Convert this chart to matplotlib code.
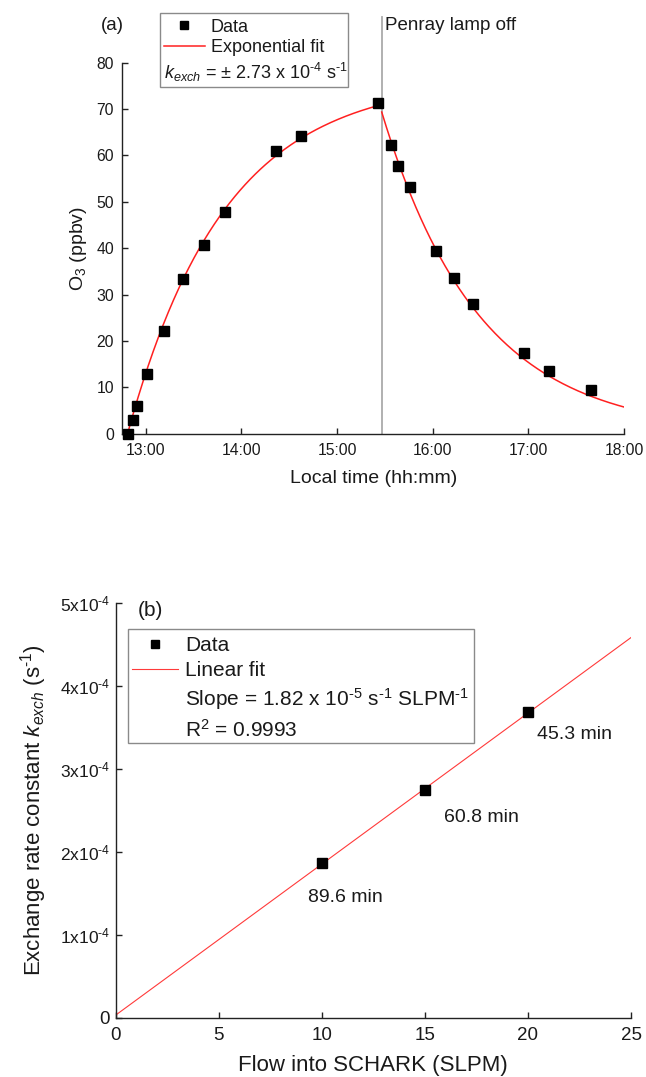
import numpy as np
import matplotlib
matplotlib.use('Agg')
import matplotlib.pyplot as plt
from matplotlib.lines import Line2D
from matplotlib.patches import Rectangle
from matplotlib.ticker import FuncFormatter

plt.rcParams['font.family'] = ['Liberation Sans', 'DejaVu Sans']
plt.rcParams['mathtext.fontset'] = 'custom'
plt.rcParams['mathtext.rm'] = 'Liberation Sans'
plt.rcParams['mathtext.it'] = 'Liberation Sans:italic'
plt.rcParams['mathtext.bf'] = 'Liberation Sans:bold'

# --- panel (a): O3 in SCHARK, local time in decimal hours
t_rise = np.array([12.81, 12.87, 12.91, 13.01, 13.19, 13.39, 13.61, 13.83,
                   14.36, 14.62, 15.43])
o3_rise = np.array([0.0, 2.9, 6.0, 12.8, 22.2, 33.3, 40.6, 47.8,
                    61.0, 64.2, 71.4])
t_decay = np.array([15.56, 15.64, 15.76, 16.03, 16.22, 16.42, 16.95, 17.22, 17.65])
o3_decay = np.array([62.3, 57.7, 53.1, 39.3, 33.5, 28.0, 17.3, 13.5, 9.4])
t_lamp_off = 15.467
k_exch = 2.73e-4  # s-1

# --- panel (b): exchange rate vs flow
flow = np.array([10, 15, 20])
k_meas = np.array([1.86e-4, 2.74e-4, 3.68e-4])
tau_labels = ['89.6 min', '60.8 min', '45.3 min']
tau_offsets = [(-14, -34), (19, -27), (9, -22)]  # pixels

W, H = 646, 1077
TXT = '#1a1a1a'
SUP = r'$^{\text{%s}}$'  # plain hyphen in superscripts


def fx(x):
    return x / W


def fy(y):
    return 1 - y / H


def hhmm(x, pos):
    h = int(x)
    m = int(round((x - h) * 60))
    return '%d:%02d' % (h, m)


# exponential fits with k_exch fixed, amplitude by least squares
k_h = k_exch * 3600
t0 = t_rise[0]
f_rise = 1 - np.exp(-k_h * (t_rise - t0))
amp_rise = np.sum(o3_rise * f_rise) / np.sum(f_rise ** 2)
f_dec = np.exp(-k_h * (t_decay - t_lamp_off))
amp_dec = np.sum(o3_decay * f_dec) / np.sum(f_dec ** 2)
tt1 = np.linspace(t0, t_lamp_off, 200)
tt2 = np.linspace(t_lamp_off, 18.0, 200)
fit1 = amp_rise * (1 - np.exp(-k_h * (tt1 - t0)))
fit2 = amp_dec * np.exp(-k_h * (tt2 - t_lamp_off))

# linear fit
slope, icpt = np.polyfit(flow, k_meas, 1)
ff = np.linspace(0, 25, 50)

fig = plt.figure(figsize=(W / 100, H / 100), dpi=100)

# ---------------- (a)
ax1 = fig.add_axes([fx(122.3), fy(433.7), (624 - 122.3) / W, (433.7 - 62.7) / H])
ax1.plot(tt1, fit1, color='#ff2020', lw=1.1, zorder=2)
ax1.plot(tt2, fit2, color='#ff2020', lw=1.1, zorder=2)
ax1.plot(np.r_[t_rise, t_decay], np.r_[o3_rise, o3_decay], 's', color='black',
         ms=7.6, zorder=3, clip_on=False)
ax1.axvline(t_lamp_off, ymin=0, ymax=(433.7 - 16.7) / (433.7 - 62.7),
            color='#aaaaaa', lw=1.3, clip_on=False, zorder=1)
ax1.set_xlim(12.755, 18.0)
ax1.set_ylim(0, 80)
ax1.set_xticks(np.arange(13, 19, 1))
ax1.xaxis.set_major_formatter(FuncFormatter(hhmm))
ax1.set_yticks(np.arange(0, 81, 10))
ax1.set_xlabel('Local time (hh:mm)', fontsize=14, color=TXT, labelpad=8)
ax1.set_ylabel('O$_3$ (ppbv)', fontsize=14, color=TXT, labelpad=5)

# ---------------- (b)
ax2 = fig.add_axes([fx(115.7), fy(1017.6), (631 - 115.7) / W, (1017.6 - 602.7) / H])
ax2.plot(ff, slope * ff + icpt, color='#ff3a3a', lw=0.8, zorder=2)
ax2.plot(flow, k_meas, 's', color='black', ms=6.5, zorder=3)
for x, y, lab, off in zip(flow, k_meas, tau_labels, tau_offsets):
    ax2.annotate(lab, (x, y), xytext=off, textcoords='offset pixels',
                 ha='left', va='center', fontsize=14, color=TXT)
ax2.set_xlim(0, 25)
ax2.set_ylim(0, 5e-4)
ax2.set_xticks(np.arange(0, 26, 5))
ax2.set_yticks(np.arange(0, 6) * 1e-4)
ax2.set_yticklabels(['0'] + ['%dx10' % i + SUP % '-4' for i in range(1, 6)])
ax2.set_xlabel('Flow into SCHARK (SLPM)', fontsize=16, color=TXT, labelpad=8)
ax2.set_ylabel('Exchange rate constant $k_{exch}$ (s' + SUP % '-1' + ')',
               fontsize=16, color=TXT, labelpad=8)

for ax, fs, pad in ((ax1, 11.3, 6), (ax2, 12.5, 4)):
    for side in ('top', 'right'):
        ax.spines[side].set_visible(False)
    for side in ('left', 'bottom'):
        ax.spines[side].set_color('#222222')
        ax.spines[side].set_linewidth(1.0)
    ax.tick_params(direction='in', length=4.5, width=1.0, colors='#222222',
                   labelsize=fs, labelcolor=TXT, pad=pad)
ax2.tick_params(axis='x', pad=7, labelsize=13.5)
ax2.get_yticklabels()[0].set_fontsize(13.5)
ax1.tick_params(axis='x', pad=7)

# ---------------- legends / labels (figure pixel layout)
fig.patches.append(Rectangle((fx(160), fy(87.3)), (348.3 - 160) / W, (87.3 - 13.3) / H,
                             transform=fig.transFigure, fill=False,
                             edgecolor='#8a8a8a', lw=1.0))
h_data = Line2D([], [], marker='s', ls='none', color='black', ms=5.3)
h_fit = Line2D([], [], color='#ff2020', lw=1.1)
fig.legend([h_data, h_fit], ['Data', 'Exponential fit'], loc='upper left',
           bbox_to_anchor=(fx(164), fy(18.5)), bbox_transform=fig.transFigure,
           frameon=False, fontsize=13, handlelength=2.27, handletextpad=0.32,
           labelspacing=0.22, borderpad=0, borderaxespad=0, labelcolor=TXT)
fig.text(fx(164), fy(72), '$k_{exch}$ = \u00b1 2.73 x 10' + SUP % '-4' + ' s' + SUP % '-1',
         fontsize=13, color=TXT, ha='left', va='center')
fig.text(fx(101), fy(26), '(a)', fontsize=13.5, color=TXT, ha='left', va='center')
fig.text(fx(385), fy(26), 'Penray lamp off', fontsize=13.5, color=TXT,
         ha='left', va='center')

fig.patches.append(Rectangle((fx(128.3), fy(743.3)), (474 - 128.3) / W, (743.3 - 629.3) / H,
                             transform=fig.transFigure, fill=False,
                             edgecolor='#8a8a8a', lw=1.0))
h_data2 = Line2D([], [], marker='s', ls='none', color='black', ms=6)
h_fit2 = Line2D([], [], color='#ff3a3a', lw=0.8)
h_blank = Line2D([], [], ls='none')
fig.legend([h_data2, h_fit2, h_blank, h_blank],
           ['Data', 'Linear fit',
            'Slope = 1.82 x 10' + SUP % '-5' + ' s' + SUP % '-1' + ' SLPM' + SUP % '-1',
            'R$^2$ = 0.9993'],
           loc='upper left', bbox_to_anchor=(fx(131.7), fy(636)),
           bbox_transform=fig.transFigure, frameon=False, fontsize=15,
           handlelength=2.24, handletextpad=0.32, labelspacing=0.3,
           borderpad=0, borderaxespad=0, labelcolor=TXT)
fig.text(fx(137.7), fy(610), '(b)', fontsize=15, color=TXT, ha='left', va='center')

fig.savefig('out.png', dpi=100)
